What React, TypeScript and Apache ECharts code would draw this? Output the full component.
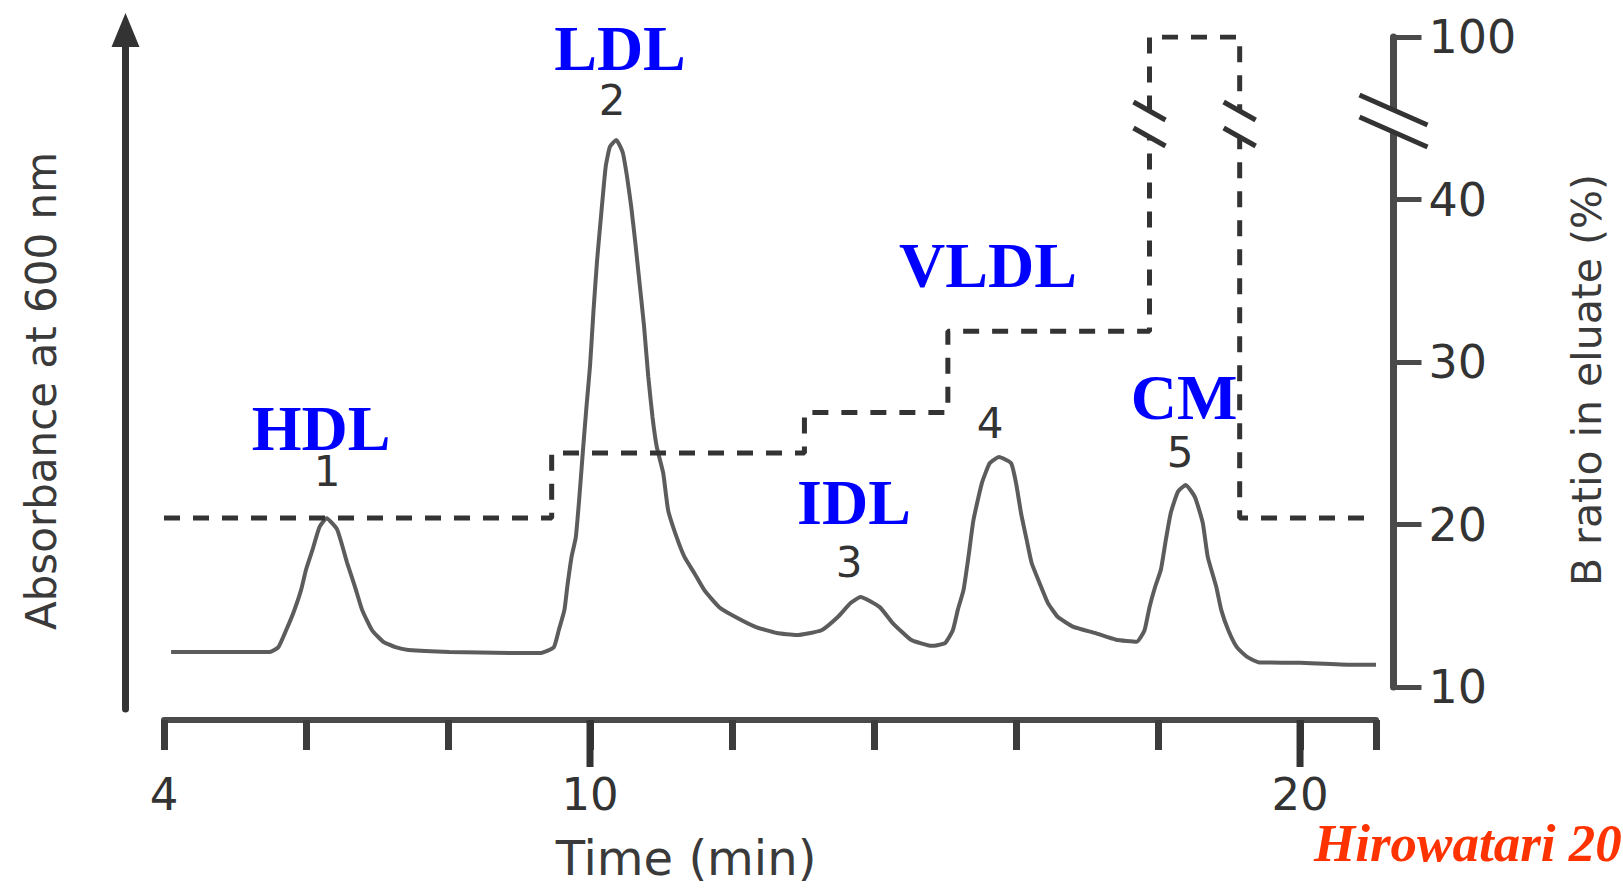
import { useEffect, useRef } from "react";
import * as echarts from "echarts";

// Elution time (min) and absorbance at 600 nm (arbitrary units)
const timeMin = [
  4.1, 5.49, 5.61, 5.72, 5.82, 5.93, 6.0, 6.09, 6.19, 6.29, 6.44, 6.58, 6.69, 6.79, 6.93, 7.09,
  7.26, 7.44, 8.02, 8.88, 9.31, 9.49, 9.56, 9.64, 9.68, 9.74, 9.8, 9.85, 9.9, 9.95, 10.0,
  10.05, 10.1, 10.15, 10.22, 10.28, 10.37, 10.46, 10.52, 10.58, 10.64, 10.7, 10.76, 10.82,
  10.88, 10.94, 11.03, 11.1, 11.22, 11.33, 11.47, 11.61, 11.82, 12.05, 12.33, 12.63,
  12.91, 13.26, 13.49, 13.67, 13.81, 14.08, 14.26, 14.52, 14.81, 15.0, 15.11, 15.18, 15.26,
  15.33, 15.4, 15.52, 15.63, 15.76, 15.93, 16.0, 16.07, 16.15, 16.22, 16.33, 16.45, 16.59,
  16.81, 17.11, 17.41, 17.7, 17.81, 17.88, 17.96, 18.04, 18.11, 18.18, 18.28, 18.39, 18.52,
  18.63, 18.7, 18.82, 18.89, 18.99, 19.11, 19.25, 19.41, 20.0, 20.73, 21.07,
];
const absorbance = [
  8.4, 8.4, 9.1, 11.6, 14.1, 17.5, 20.5, 23.4, 26.8, 28.1, 26.4, 21.5, 18.0, 14.6, 11.6, 9.9,
  9.1, 8.7, 8.4, 8.25, 8.25, 9.1, 11.6, 14.6, 18.0, 22.4, 25.3, 31.2, 38.0, 44.5, 50.5,
  58.8, 66.1, 72.0, 79.8, 82.8, 83.8, 82.0, 78.5, 74.0, 68.5, 62.5, 56.5, 49.0,
  43.0, 38.6, 34.8, 29.3, 25.3, 22.4, 20.0, 17.5, 15.0, 13.55, 12.1, 11.2,
  10.9, 11.6, 13.55, 15.6, 16.5, 15.0, 12.7, 10.2, 9.3, 9.7, 11.6, 14.6, 17.5,
  22.4, 27.8, 33.3, 36.2, 37.1, 36.2, 33.3, 28.9, 24.9, 21.5, 18.6, 15.6, 13.55,
  12.1, 11.2, 10.2, 9.9, 11.6, 15.0, 18.0, 20.5, 24.9, 28.9, 32.0, 33.0, 31.2,
  27.4, 22.4, 18.0, 14.6, 11.6, 9.1, 7.7, 6.9, 6.8, 6.5, 6.5,
];

// Step gradient: B ratio in eluate (%), each value holds until the next time
const gradientTime = [4.0, 9.46, 13.02, 15.04, 17.88, 19.15, 21.07];
const gradientB = [20.4, 24.4, 26.9, 31.9, 100, 20.4, 20.4];

// Axis ticks and labels
const timeTicks = [4, 6, 8, 10, 12, 14, 16, 18, 20, 21.07];
const timeLabels = [4, 10, 20];
const timeMajorTicks = [10, 20];
const ratioTicks = [10, 20, 30, 40, 100];

// Peak annotations
const peakNumbers = ["1", "2", "3", "4", "5"];
const peakNames = ["HDL", "LDL", "IDL", "VLDL", "CM"];

const T_MIN = 4;
const T_MAX = 21.07;

// The B-ratio axis is linear up to 40 %, then 40-100 % is squeezed into one tick step
const BREAK_AT = 40;
const BREAK_TOP = 100;
const BREAK_SPAN = 10;
const toBrokenAxis = (v: number) =>
  v <= BREAK_AT ? v : BREAK_AT + ((v - BREAK_AT) / (BREAK_TOP - BREAK_AT)) * BREAK_SPAN;
const fromBrokenAxis = (a: number) =>
  a <= BREAK_AT ? a : BREAK_AT + ((a - BREAK_AT) / BREAK_SPAN) * (BREAK_TOP - BREAK_AT);

// Layout (px)
const W = 1623;
const H = 888;
const PLOT_LEFT = 164;
const PLOT_RIGHT = W - 1376;
const X_AXIS_Y = 720;
const X_AXIS_BOTTOM = H - X_AXIS_Y;
const ABS_TOP = 30;
const ABS_BOTTOM = H - 709;
const B_TOP = 37;
const B_BOTTOM = H - 687;
const LEFT_AXIS_OFFSET = 38.5;
const RIGHT_AXIS_OFFSET = 17.5;
const RIGHT_AXIS_X = 1376 + RIGHT_AXIS_OFFSET;
const MAJOR_TICK_LEN = 47;

const SANS = "'DejaVu Sans', Verdana, sans-serif";
const SERIF = "'Liberation Serif', 'Times New Roman', serif";
const INK = "#333333";
const BLUE = "#0000ff";

const numberPos = [
  [327, 471],
  [612, 100],
  [849, 562],
  [990, 423],
  [1180, 452],
];
const namePos = [
  [321, 428],
  [620, 48],
  [854, 502],
  [988, 265],
  [1184, 397],
];

function textEl(
  text: string,
  x: number,
  y: number,
  size: number,
  family: string,
  fill: string,
  extra: Record<string, unknown> = {},
  rotation = 0
) {
  return {
    type: "text",
    x,
    y,
    rotation,
    z: 50,
    style: {
      text,
      fontSize: size,
      fontFamily: family,
      fill,
      textAlign: "center",
      textVerticalAlign: "middle",
      align: "center",
      verticalAlign: "middle",
      ...extra,
    },
  };
}

function breakMarks(cx: number, y1: number, y2: number, half: number, rise: number) {
  // white gap in the interrupted line plus two parallel slanted strokes
  const mid1 = y1 + rise / 2;
  const mid2 = y2 + rise / 2;
  return [
    {
      type: "rect",
      z: 60,
      shape: { x: cx - 6, y: mid1, width: 12, height: mid2 - mid1 },
      style: { fill: "#ffffff" },
    },
    {
      type: "line",
      z: 61,
      shape: { x1: cx - half, y1, x2: cx + half, y2: y1 + rise },
      style: { stroke: INK, lineWidth: 5 },
    },
    {
      type: "line",
      z: 61,
      shape: { x1: cx - half, y1: y2, x2: cx + half, y2: y2 + rise },
      style: { stroke: INK, lineWidth: 5 },
    },
  ];
}

export default function App() {
  const ref = useRef<HTMLDivElement>(null);

  useEffect(() => {
    if (!ref.current) return;
    const chart = echarts.init(ref.current, null, { renderer: "svg" });

    const curve = timeMin.map((t, i) => [t, absorbance[i]]);
    const gradient = gradientTime.map((t, i) => [t, toBrokenAxis(gradientB[i])]);

    const hiddenX = (gridIndex: number) => ({
      gridIndex,
      type: "value",
      position: "bottom",
      min: T_MIN,
      max: T_MAX,
      show: false,
    });
    const grid = (top: number, bottom: number) => ({
      left: PLOT_LEFT,
      right: PLOT_RIGHT,
      top,
      bottom,
    });

    chart.setOption({
      animation: false,
      backgroundColor: "#ffffff",
      grid: [grid(ABS_TOP, X_AXIS_BOTTOM), grid(ABS_TOP, ABS_BOTTOM), grid(B_TOP, B_BOTTOM)],
      xAxis: [
        {
          gridIndex: 0,
          type: "value",
          position: "bottom",
          min: T_MIN,
          max: T_MAX,
          axisLine: { show: true, onZero: false, lineStyle: { color: "#4a4a4a", width: 6 } },
          axisTick: {
            show: true,
            customValues: timeTicks,
            length: 30,
            lineStyle: { color: "#3c3c3c", width: 7 },
          },
          axisLabel: {
            show: true,
            customValues: timeLabels,
            fontSize: 45,
            fontFamily: SANS,
            color: INK,
            margin: 52,
          },
          splitLine: { show: false },
        },
        hiddenX(1),
        hiddenX(2),
      ],
      yAxis: [
        { gridIndex: 0, type: "value", min: 0, max: 1, show: false },
        {
          gridIndex: 1,
          type: "value",
          position: "left",
          offset: LEFT_AXIS_OFFSET,
          min: 0,
          max: 100,
          axisLine: {
            show: true,
            onZero: false,
            symbol: ["none", "triangle"],
            symbolSize: [28, 34],
            lineStyle: { color: "#333333", width: 7 },
          },
          axisTick: { show: false },
          axisLabel: { show: false },
          splitLine: { show: false },
        },
        {
          gridIndex: 2,
          type: "value",
          position: "right",
          offset: RIGHT_AXIS_OFFSET,
          min: toBrokenAxis(ratioTicks[0]),
          max: toBrokenAxis(ratioTicks[ratioTicks.length - 1]),
          interval: 10,
          axisLine: { show: true, onZero: false, lineStyle: { color: "#4a4a4a", width: 7 } },
          axisTick: {
            show: true,
            customValues: ratioTicks.map(toBrokenAxis),
            length: 28,
            lineStyle: { color: "#4a4a4a", width: 5 },
          },
          axisLabel: {
            show: true,
            customValues: ratioTicks.map(toBrokenAxis),
            margin: 35,
            fontSize: 46,
            fontFamily: SANS,
            color: INK,
            formatter: (v: number) => String(Math.round(fromBrokenAxis(v))),
          },
          splitLine: { show: false },
        },
      ],
      series: [
        {
          type: "line",
          name: "Absorbance",
          xAxisIndex: 1,
          yAxisIndex: 1,
          data: curve,
          showSymbol: false,
          smooth: 0.15,
          lineStyle: { color: "#5c5c5c", width: 4 },
          z: 3,
        },
        {
          type: "line",
          name: "B ratio",
          xAxisIndex: 2,
          yAxisIndex: 2,
          data: gradient,
          step: "end",
          showSymbol: false,
          lineStyle: { color: INK, width: 5, type: [16, 13] },
          z: 4,
        },
      ],
    });

    // All time axes share the same horizontal extent; use the gradient series' grid
    const timeToX = (t: number) =>
      (chart.convertToPixel({ seriesIndex: 1 }, [t, toBrokenAxis(ratioTicks[0])]) as number[])[0];

    // Break marks: on the B-ratio axis and on both sides of the 100 % plateau
    const plateauStart = timeToX(gradientTime[4]);
    const plateauEnd = timeToX(gradientTime[5]);

    const graphics: any[] = [
      ...breakMarks(RIGHT_AXIS_X, 95, 117, 34, 30),
      ...breakMarks(plateauStart, 102, 128, 16, 18),
      ...breakMarks(plateauEnd, 102, 128, 16, 18),
      textEl("Absorbance at 600 nm", 41, 391, 42, SANS, "#3a3a3a", {}, Math.PI / 2),
      textEl("B ratio in eluate (%)", 1587, 380, 41, SANS, "#3a3a3a", {}, Math.PI / 2),
      textEl("Time (min)", 686, 858, 48, SANS, "#3a3a3a"),
      textEl("Hirowatari 20", 1314, 843, 53, SERIF, "#ff3300", {
        fontWeight: "bold",
        fontStyle: "italic",
        textAlign: "left",
        align: "left",
      }),
    ];

    // Longer ticks at the labelled 10 and 20 min marks
    timeMajorTicks.forEach((t) => {
      const x = timeToX(t);
      graphics.push({
        type: "line",
        z: 40,
        shape: { x1: x, y1: X_AXIS_Y, x2: x, y2: X_AXIS_Y + MAJOR_TICK_LEN },
        style: { stroke: "#333333", lineWidth: 7 },
      });
    });

    peakNames.forEach((name, i) => {
      graphics.push(
        textEl(name, namePos[i][0], namePos[i][1], 64, SERIF, BLUE, { fontWeight: "bold" })
      );
      graphics.push(textEl(peakNumbers[i], numberPos[i][0], numberPos[i][1], 42, SANS, INK));
    });

    chart.setOption({ graphic: graphics });

    return () => {
      chart.dispose();
    };
  }, []);

  return (
    <div
      ref={ref}
      style={{ position: "absolute", left: 0, top: 0, width: W, height: H, background: "#fff" }}
    />
  );
}
